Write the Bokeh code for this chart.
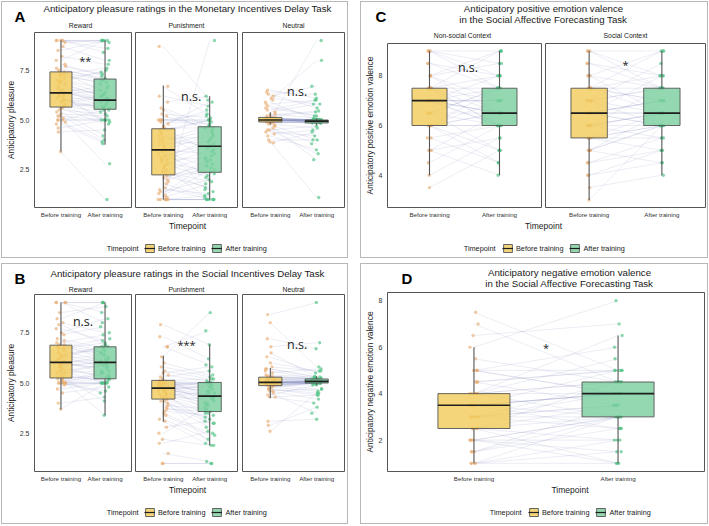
import numpy as np
from bokeh.plotting import figure
from bokeh.layouts import row, column
from bokeh.models import Range1d, FixedTicker, PrintfTickFormatter, Label, Legend, LegendItem, Spacer
from bokeh.core.properties import value
from bokeh.embed import file_html
from bokeh.resources import INLINE

FONT = "Liberation Sans"
SIG_FONT = "Open Sans"

TIMEPOINTS = ["Before training", "After training"]
TP_X = [1, 2]
BOX_W = 0.5

# ---------------- Panel A : Monetary Incentives Delay Task ----------------
A_TITLE = "Anticipatory pleasure ratings in the Monetary Incentives Delay Task"
A_FACETS = ["Reward", "Punishment", "Neutral"]
A_REW_BEFORE = [9.0,6.4,5.0,7.4,3.4,6.1,8.7,5.5,6.8,9.0, 5.2,6.3,7.2,4.8,6.0,7.5,5.7,9.0,6.6,5.1,
                6.9,5.8,8.2,4.6,6.4,7.0,5.4,9.0,6.2,7.8, 5.9,5.0,7.3,6.5,8.0,5.6,6.7,7.1,5.3,9.0,
                6.0,7.4,4.9,6.4,8.5,5.7,6.9,7.6,5.0,6.3, 8.9,5.6,7.0,6.2,5.2,7.7,6.5,4.4,6.0,7.3]
A_REW_AFTER = [9.0,6.0,5.0,7.0,1.0,5.6,8.0,5.3,6.2,8.6, 4.0,6.5,6.9,3.8,5.5,7.1,5.0,9.0,6.3,2.8,
               7.5,5.7,7.8,5.0,5.9,6.6,4.2,8.9,5.0,7.2, 6.1,5.5,6.8,5.8,9.0,4.8,6.0,7.4,5.2,8.4,
               5.6,6.4,3.9,6.7,9.0,5.4,6.1,7.0,5.0,5.7, 9.0,5.9,6.3,4.9,5.0,7.3,6.0,4.5,6.2,7.6]
A_PUN_BEFORE = [1.0,3.5,5.0,2.2,4.6,8.7,1.2,3.0,6.7,2.6, 4.0,1.0,5.0,3.3,1.6,4.4,2.0,5.5,3.8,1.0,
                2.9,4.8,3.6,1.4,5.2,2.4,4.2,1.0,3.1,5.9, 2.1,4.5,1.8,3.4,5.0,2.7,4.9,1.1,3.9,6.2,
                2.3,4.3,1.0,3.7,5.0,2.5,4.1,1.3,3.2,5.6, 2.8,4.7,1.5,3.5,5.3,1.9,4.6,1.0,3.0,2.4]
A_PUN_AFTER = [1.0,4.2,5.0,1.6,3.4,6.0,2.5,3.7,5.2,1.0, 4.7,1.2,4.9,2.2,1.0,5.0,3.0,4.4,3.9,9.0,
               2.4,5.5,1.4,2.0,4.6,3.2,3.6,1.0,4.0,6.2, 2.8,5.0,1.1,2.6,5.3,3.5,4.8,1.8,4.5,5.7,
               2.3,3.0,1.0,4.3,5.0,1.5,4.1,2.9,3.8,4.7, 2.1,5.9,1.3,3.3,5.1,2.7,4.6,1.0,3.1,1.9]
A_NEU_BEFORE = [5.0,4.9,6.5,5.0,3.9,5.1,5.0,4.0,5.4,5.0, 4.95,6.2,4.5,5.0,5.1,5.7,4.3,5.0,4.9,6.0,
                5.05,4.7,5.0,5.5,4.9,5.1,4.4,5.0,6.3,5.0, 4.85,5.2,4.6,5.0,5.9,5.1,4.2,5.0,5.0,5.8,
                4.95,4.8,5.13,6.1,5.0,3.85,5.0,5.6,4.9,5.05, 4.75,5.0,6.4,5.1,4.9,5.3,5.0,4.5,5.0,5.25]
A_NEU_AFTER = [5.0,4.9,6.1,4.95,1.1,5.0,9.0,4.0,5.8,4.9, 5.0,6.7,3.3,5.0,4.85,5.2,4.5,5.0,4.9,8.0,
               4.95,3.0,5.0,6.0,4.85,5.0,4.2,4.9,5.6,5.0, 4.9,5.4,3.8,5.0,5.0,4.95,3.5,5.0,4.9,6.0,
               5.0,4.6,5.0,5.8,4.9,4.4,5.0,5.2,4.85,5.0, 4.0,4.95,6.3,5.0,4.9,5.1,5.0,4.7,4.9,5.45]
# box statistics: [q1, median, q3, lower whisker, upper whisker]
A_REW_BOX_BEFORE = [5.65, 6.36, 7.42, 3.42, 9.0]
A_REW_BOX_AFTER = [5.54, 6.0, 7.06, 3.76, 9.0]
A_PUN_BOX_BEFORE = [2.24, 3.5, 4.56, 1.0, 6.73]
A_PUN_BOX_AFTER = [2.37, 3.68, 4.66, 1.0, 6.19]
A_NEU_BOX_BEFORE = [4.9, 5.0, 5.13, 4.77, 5.39]
A_NEU_BOX_AFTER = [4.85, 4.94, 5.0, 4.72, 5.1]
A_SIG = ["**", "n.s.", "n.s."]
A_SIG_X = [1.55, 1.6, 1.58]
A_SIG_Y = [8.0, 6.2, 6.45]

# ---------------- Panel B : Social Incentives Delay Task ----------------
B_TITLE = "Anticipatory pleasure ratings in the Social Incentives Delay Task"
B_FACETS = ["Reward", "Punishment", "Neutral"]
B_REW_BEFORE = [9.0,6.0,5.0,6.9,3.7,5.5,8.0,5.0,6.4,7.5, 5.2,6.1,5.8,9.0,4.5,6.7,5.0,6.3,7.2,5.3,
                8.5,5.0,6.0,4.0,6.6,5.6,7.0,5.1,6.2,9.0, 5.4,6.8,5.0,5.9,7.7,5.2,6.5,4.9,6.0,8.2,
                5.7,6.9,5.0,6.3,5.3,7.4,5.8,6.1,5.0,7.9, 5.5,6.4,4.7,6.7,5.6,9.0,5.1,6.2,7.1,5.9]
B_REW_AFTER = [9.0,6.2,5.0,6.5,5.0,5.9,7.5,4.6,6.8,8.2, 3.4,6.0,5.3,9.0,4.8,7.0,5.5,5.8,6.7,5.2,
               8.8,5.0,6.3,4.3,6.1,5.0,7.4,5.6,6.9,8.5, 5.1,6.4,4.5,6.0,7.1,5.4,6.6,5.0,5.7,9.0,
               5.3,6.2,5.0,6.8,4.1,7.8,6.1,5.5,5.2,6.9, 5.6,6.0,5.0,7.2,5.9,8.0,5.3,6.4,6.5,5.8]
B_PUN_BEFORE = [5.0,4.7,7.9,4.2,1.0,5.1,4.5,6.3,4.8,3.5, 5.0,4.4,2.2,4.9,5.6,4.1,6.8,4.6,3.2,5.0,
                4.3,1.5,4.75,5.3,3.8,4.9,2.5,4.6,5.8,4.0, 5.0,7.3,4.5,1.0,4.8,3.6,5.1,4.2,5.5,2.0,
                4.7,5.0,3.9,6.0,4.4,2.8,5.2,4.6,3.1,4.9, 6.8,4.3,5.0,3.4,4.75,5.4,4.1,4.8,3.7,5.13]
B_PUN_AFTER = [4.0,4.3,6.9,3.5,1.0,5.0,3.0,8.5,4.4,2.5, 5.0,3.8,1.9,4.6,5.2,3.2,7.6,4.9,2.2,4.5,
               3.6,1.1,4.2,5.6,3.3,5.0,3.9,4.1,5.3,2.8, 4.7,6.2,4.0,1.0,5.0,3.4,4.8,2.0,5.8,2.6,
               4.35,5.0,3.7,5.4,4.5,3.1,4.3,3.9,1.9,5.0, 5.9,4.2,3.5,2.4,4.8,5.1,3.0,4.6,3.6,5.2]
B_NEU_BEFORE = [5.0,5.3,8.4,4.9,2.6,5.1,5.5,4.7,5.0,6.8, 5.2,4.5,5.0,5.7,4.8,3.1,5.1,6.0,5.0,4.9,
                5.3,4.3,5.0,7.2,5.1,4.6,5.4,5.0,2.9,5.2, 4.9,6.3,5.0,4.8,5.6,5.0,4.4,5.1,8.0,5.0,
                5.3,4.7,5.05,6.5,4.9,5.2,4.3,5.0,5.8,5.1, 4.9,5.0,5.7,4.6,5.2,5.0,4.8,5.35,5.0,4.9]
B_NEU_AFTER = [5.1,5.2,9.0,5.0,4.5,5.1,5.7,4.4,5.0,7.0, 5.2,3.5,5.1,5.3,5.0,3.2,5.1,5.6,5.0,4.7,
               5.2,4.0,5.1,6.7,5.0,4.2,5.3,5.05,3.8,5.1, 5.0,5.5,5.1,4.6,5.2,5.0,4.9,5.1,5.8,5.0,
               5.25,4.5,5.1,5.3,5.0,5.2,4.4,5.05,5.6,5.0, 4.9,5.1,5.3,4.7,5.15,5.0,5.0,5.2,5.1,5.0]
B_REW_BOX_BEFORE = [5.25, 6.03, 6.88, 3.69, 9.0]
B_REW_BOX_AFTER = [5.21, 6.03, 6.8, 3.4, 9.0]
B_PUN_BOX_BEFORE = [4.2, 4.75, 5.13, 3.07, 6.36]
B_PUN_BOX_AFTER = [3.58, 4.35, 5.03, 1.9, 6.91]
B_NEU_BOX_BEFORE = [4.87, 5.03, 5.29, 4.26, 5.74]
B_NEU_BOX_AFTER = [5.0, 5.08, 5.2, 4.89, 5.33]
B_SIG = ["n.s.", "***", "n.s."]
B_SIG_X = [1.5, 1.5, 1.58]
B_SIG_Y = [8.05, 6.9, 6.9]

# ---------------- Panel C : positive emotion valence ----------------
C_TITLE = ["Anticipatory positive emotion valence", "in the Social Affective Forecasting Task"]
C_FACETS = ["Non-social Context", "Social Context"]
C_YLABEL = "Anticipatory positive emotion valence"
C_NON_BEFORE = [7,9,6,7.5,3.5,6.5,8,7,5,6, 8.5,7.5,4,7,6,9,5.5,7,6.5,8, 7.5,6,7,4.5,7.5,6,8.5,7,5,7.5,
                6.5,9,6,7,5.5,8,7,6,7.5,6.5, 8,6,7,5,7.5,6.5,9,7]
C_NON_AFTER = [6.5,9,7,6,5,7.5,6.5,7,4,6, 8,7.5,5.5,6,6.5,8.5,6,7.5,5,9, 6.5,4.5,7,6,8,6.5,7.5,6,5.5,7,
               6.5,7.5,6,8,4.5,7,6.5,7.5,9,6, 8.5,5,7,6.5,6,7.5,8,6.5]
C_SOC_BEFORE = [6.5,9,5.5,7.5,3,6,8,5,7,6.5, 4,7.5,5.5,8.5,6.5,4.5,7,6,9,5, 7.5,6.5,3.5,8,6,5.5,7,6.5,4,7.5,
                6,8.5,5,6.5,7,5.5,9,6,7.5,4.5, 6.5,8,5.5,7,6,7.5,5,6.5]
C_SOC_AFTER = [7,8,6.5,7.5,6,6.5,9,4.5,7.5,6, 5,6.5,6,8,7,5.5,6.5,7.5,9,6, 7,6.5,4,7.5,6,5,8.5,6.5,4.5,7,
               6.5,7.5,6,8,6,5.5,7.5,6.5,9,5, 7,6.5,6,7.5,5.5,8,6.5,6]
C_NON_BOX_BEFORE = [6.0, 7.0, 7.5, 4.0, 9.0]
C_NON_BOX_AFTER = [6.0, 6.5, 7.5, 4.0, 9.0]
C_SOC_BOX_BEFORE = [5.5, 6.5, 7.5, 3.0, 9.0]
C_SOC_BOX_AFTER = [6.0, 6.5, 7.5, 4.0, 9.0]
C_SIG = ["n.s.", "*"]
C_SIG_X = [1.55, 1.5]
C_SIG_Y = [8.35, 8.45]

# ---------------- Panel D : negative emotion valence ----------------
D_TITLE = ["Anticipatory negative emotion valence", "in the Social Affective Forecasting Task"]
D_YLABEL = "Anticipatory negative emotion valence"
D_BEFORE = [3.5,1,4,2.5,5,3,7.5,2,4.5,3.5, 1,4,2.5,6,3,1.5,5,3.5,2,4, 2.5,7,3,1,4.5,3.5,2,5.5,3,4,
            1.5,3.5,2.5,6.5,4,1,3,5,2,3.5, 4.5,2.5,3,4,1.5,5,3.5,2]
D_AFTER = [4,3,4.5,2,4,3.5,5,3,5,3, 1,4,4.5,8,2.5,3.5,5,4,1.5,6.5, 3,4.5,4,2,3.5,5,1,4.5,3,5.5,
           2.5,4,3.5,7,3,1.5,4.5,6,2,4, 5,1,3.5,4.5,3,4,2.5,3]
D_BOX_BEFORE = [2.5, 3.5, 4.0, 1.0, 6.0]
D_BOX_AFTER = [3.0, 4.0, 4.5, 1.0, 6.5]
D_SIG = ["*"]
D_SIG_X = [1.5]
D_SIG_Y = [6.0]

# ---------------- styling ----------------
YELLOW_BOX = "#F2CC5C"
GREEN_BOX = "#7BCF9F"
YELLOW_PT = "#E8AE74"
GREEN_PT = "#4DC283"
PAIR_LINE = "#7E83BC"
EDGE = "#555555"
MEDIAN = "#1e1e1e"
TXT = "#1a1a1a"
AXTXT = "#333333"
PANEL_BORDER = "1px solid #b8b8b8"


def jitter(n, width, phase):
    return width * ((((np.arange(n) + phase) * 0.6180339887) % 1.0) * 2.0 - 1.0)


def make_facet(before, after, box_b, box_a, sig, sx, sy, yr, yticks, yfmt,
               width, height, bl, br, bt, bb, ylabel=None, jit=0.11):
    p = figure(width=width, height=height, x_range=Range1d(0.4, 2.6), y_range=Range1d(*yr),
               toolbar_location=None, output_backend="svg",
               min_border_left=bl, min_border_right=br, min_border_top=bt, min_border_bottom=bb,
               y_axis_location="left" if ylabel else None)
    p.outline_line_color = EDGE
    p.outline_line_width = 1
    p.grid.visible = False
    p.background_fill_color = "white"
    p.border_fill_color = "white"

    n = len(before)
    xb = np.full(n, TP_X[0], dtype=float)
    xa = np.full(n, TP_X[1], dtype=float)
    p.segment(x0=xb, y0=before, x1=xa, y1=after, line_color=PAIR_LINE, line_alpha=0.25, line_width=0.6)
    p.scatter(xb + jitter(n, jit, 0.0), before, size=3.4, fill_color=YELLOW_PT, fill_alpha=0.65, line_color=None)
    p.scatter(xa + jitter(n, jit, 0.37), after, size=3.4, fill_color=GREEN_PT, fill_alpha=0.65, line_color=None)

    q1 = [box_b[0], box_a[0]]
    med = [box_b[1], box_a[1]]
    q3 = [box_b[2], box_a[2]]
    lo = [box_b[3], box_a[3]]
    hi = [box_b[4], box_a[4]]
    xs = np.array(TP_X, dtype=float)
    p.segment(x0=xs, y0=lo, x1=xs, y1=q1, line_color=EDGE, line_width=1.1)
    p.segment(x0=xs, y0=q3, x1=xs, y1=hi, line_color=EDGE, line_width=1.1)
    p.vbar(x=xs, width=BOX_W, bottom=q1, top=q3, fill_color=[YELLOW_BOX, GREEN_BOX], fill_alpha=0.82,
           line_color=EDGE, line_width=0.9)
    p.segment(x0=xs - BOX_W / 2, y0=med, x1=xs + BOX_W / 2, y1=med, line_color=MEDIAN, line_width=1.7)

    big = sig.startswith("n")
    p.text(x=[sx], y=[sy], text=[sig], text_font=value(SIG_FONT),
           text_font_size="12.5px" if big else "11px", text_align="center", text_baseline="middle",
           text_color="#222222")

    p.xaxis.ticker = FixedTicker(ticks=TP_X)
    p.xaxis.major_label_overrides = {TP_X[0]: TIMEPOINTS[0], TP_X[1]: TIMEPOINTS[1]}
    p.xaxis.axis_line_color = None
    p.xaxis.major_tick_line_color = None
    p.xaxis.minor_tick_line_color = None
    p.xaxis.major_tick_out = 0
    p.xaxis.major_tick_in = 0
    p.xaxis.major_label_standoff = 3
    p.xaxis.major_label_text_font = FONT
    p.xaxis.major_label_text_font_size = "6.2px"
    p.xaxis.major_label_text_color = AXTXT

    if ylabel:
        p.yaxis.ticker = FixedTicker(ticks=yticks)
        p.yaxis.formatter = PrintfTickFormatter(format=yfmt)
        p.yaxis.axis_line_color = None
        p.yaxis.major_tick_line_color = None
        p.yaxis.minor_tick_line_color = None
        p.yaxis.major_tick_out = 0
        p.yaxis.major_tick_in = 0
        p.yaxis.major_label_standoff = 5
        p.yaxis.major_label_text_font = FONT
        p.yaxis.major_label_text_font_size = "7px"
        p.yaxis.major_label_text_color = AXTXT
        p.yaxis.axis_label = ylabel
        p.yaxis.axis_label_text_font = FONT
        p.yaxis.axis_label_text_font_size = "8.4px"
        p.yaxis.axis_label_text_font_style = "normal"
        p.yaxis.axis_label_text_color = TXT
        p.yaxis.axis_label_standoff = 1
    return p


def blank(width, height):
    p = figure(width=width, height=height, toolbar_location=None, output_backend="svg",
               x_range=Range1d(0, 1), y_range=Range1d(0, 1),
               min_border=0, x_axis_location=None, y_axis_location=None, outline_line_color=None)
    p.grid.visible = False
    p.background_fill_color = "white"
    p.border_fill_color = "white"
    return p


def make_header(width, height, letter, lx, ly, lines, cx, line_ys, strips, strip_xs, strip_y):
    p = blank(width, height)
    p.add_layout(Label(x=lx, y=ly, x_units="screen", y_units="screen", text=letter,
                       text_font=FONT, text_font_size="15px", text_font_style="bold",
                       text_align="left", text_baseline="middle", text_color="#000000"))
    for t, yy in zip(lines, line_ys):
        p.add_layout(Label(x=cx, y=yy, x_units="screen", y_units="screen", text=t,
                           text_font=FONT, text_font_size="9.7px", text_align="center",
                           text_baseline="middle", text_color=TXT))
    for t, xx in zip(strips, strip_xs):
        p.add_layout(Label(x=xx, y=strip_y, x_units="screen", y_units="screen", text=t,
                           text_font=FONT, text_font_size="6.8px", text_align="center",
                           text_baseline="middle", text_color=TXT))
    return p


def make_footer(width, height, cx, tp_y, title_right, leg_x, leg_y):
    p = blank(width, height)
    p.add_layout(Label(x=cx, y=tp_y, x_units="screen", y_units="screen", text="Timepoint",
                       text_font=FONT, text_font_size="8.5px", text_align="center",
                       text_baseline="middle", text_color=TXT))
    p.add_layout(Label(x=title_right, y=leg_y + 5, x_units="screen", y_units="screen", text="Timepoint",
                       text_font=FONT, text_font_size="7.3px", text_align="right",
                       text_baseline="middle", text_color=TXT))
    # legend-key renderers: their single point lies outside the visible range
    rb = p.vbar(x=[-5], bottom=[-6], top=[-5], width=1, fill_color=YELLOW_BOX, fill_alpha=0.82,
                line_color=EDGE, line_width=0.9)
    rbm = p.line(x=[-6, -5], y=[-5, -5], line_color=MEDIAN, line_width=1.2)
    ra = p.vbar(x=[-5], bottom=[-6], top=[-5], width=1, fill_color=GREEN_BOX, fill_alpha=0.82,
                line_color=EDGE, line_width=0.9)
    ram = p.line(x=[-6, -5], y=[-5, -5], line_color=MEDIAN, line_width=1.2)
    leg = Legend(items=[LegendItem(label=TIMEPOINTS[0], renderers=[rb, rbm]),
                        LegendItem(label=TIMEPOINTS[1], renderers=[ra, ram])],
                 location=(leg_x, leg_y), orientation="horizontal",
                 glyph_width=11, glyph_height=10, label_standoff=3, spacing=6,
                 padding=0, margin=0, border_line_color=None, background_fill_alpha=0,
                 label_text_font=FONT, label_text_font_size="7.3px", label_text_color=TXT,
                 label_height=10, label_width=10, label_text_baseline="middle")
    p.add_layout(leg)
    return p


def panel(children):
    return column(*children, styles={"border": PANEL_BORDER})


# ---- Panel A
a_dims = [(131, 27, 2), (107, 2, 3), (107, 2, 3)]
a_head = make_header(345, 27, "A", 12, 13.5, [A_TITLE], 185, [21], A_FACETS, [78, 184, 291], 4)
a_data = [(A_REW_BEFORE, A_REW_AFTER, A_REW_BOX_BEFORE, A_REW_BOX_AFTER),
          (A_PUN_BEFORE, A_PUN_AFTER, A_PUN_BOX_BEFORE, A_PUN_BOX_AFTER),
          (A_NEU_BEFORE, A_NEU_AFTER, A_NEU_BOX_BEFORE, A_NEU_BOX_AFTER)]
a_figs = []
for i in range(3):
    w, bl, br = a_dims[i]
    b, a, bxb, bxa = a_data[i]
    a_figs.append(make_facet(b, a, bxb, bxa, A_SIG[i], A_SIG_X[i], A_SIG_Y[i],
                             (0.6, 9.4), [2.5, 5.0, 7.5], "%.1f", w, 191, bl, br, 3, 10,
                             ylabel="Anticipatory pleasure" if i == 0 else None))
a_foot = make_footer(345, 37, 185, 32, 136, 142, 4)
panel_a = panel([a_head, row(*a_figs), a_foot])

# ---- Panel B
b_head = make_header(345, 29, "B", 12, 15.5, [B_TITLE], 185, [20], B_FACETS, [78, 184, 291], 4)
b_data = [(B_REW_BEFORE, B_REW_AFTER, B_REW_BOX_BEFORE, B_REW_BOX_AFTER),
          (B_PUN_BEFORE, B_PUN_AFTER, B_PUN_BOX_BEFORE, B_PUN_BOX_AFTER),
          (B_NEU_BEFORE, B_NEU_AFTER, B_NEU_BOX_BEFORE, B_NEU_BOX_AFTER)]
b_figs = []
for i in range(3):
    w, bl, br = a_dims[i]
    b, a, bxb, bxa = b_data[i]
    b_figs.append(make_facet(b, a, bxb, bxa, B_SIG[i], B_SIG_X[i], B_SIG_Y[i],
                             (0.6, 9.4), [2.5, 5.0, 7.5], "%.1f", w, 191, bl, br, 1, 11,
                             ylabel="Anticipatory pleasure" if i == 0 else None))
b_foot = make_footer(345, 39, 185, 34, 136, 142, 6)
panel_b = panel([b_head, row(*b_figs), b_foot])

# ---- Panel C
c_dims = [(182, 22, 2), (164, 2, 2)]
c_head = make_header(346, 39, "C", 14, 24.8, C_TITLE, 182, [33, 22], C_FACETS, [101, 264], 6)
c_data = [(C_NON_BEFORE, C_NON_AFTER, C_NON_BOX_BEFORE, C_NON_BOX_AFTER),
          (C_SOC_BEFORE, C_SOC_AFTER, C_SOC_BOX_BEFORE, C_SOC_BOX_AFTER)]
c_figs = []
for i in range(2):
    w, bl, br = c_dims[i]
    b, a, bxb, bxa = c_data[i]
    c_figs.append(make_facet(b, a, bxb, bxa, C_SIG[i], C_SIG_X[i], C_SIG_Y[i],
                             (2.7, 9.3), [4, 6, 8], "%d", w, 179, bl, br, 2, 10,
                             ylabel=C_YLABEL if i == 0 else None, jit=0.03))
c_foot = make_footer(346, 37, 182, 32, 134, 141, 4)
panel_c = panel([c_head, row(*c_figs), c_foot])

# ---- Panel D
d_head = make_header(346, 27, "D", 14, 13, D_TITLE, 182, [19, 8], [], [], 0)
d_fig = make_facet(D_BEFORE, D_AFTER, D_BOX_BEFORE, D_BOX_AFTER, D_SIG[0], D_SIG_X[0], D_SIG_Y[0],
                   (0.65, 8.35), [2, 4, 6, 8], "%d", 346, 193, 22, 3, 1, 11,
                   ylabel=D_YLABEL, jit=0.03)
d_foot = make_footer(346, 39, 182.5, 34, 134, 141, 6)
panel_d = panel([d_head, d_fig, d_foot])

left = column(Spacer(width=1, height=1), panel_a, Spacer(width=1, height=5), panel_b)
right = column(Spacer(width=1, height=1), panel_c, Spacer(width=1, height=5), panel_d)
layout = row(Spacer(width=1, height=1), left, Spacer(width=12, height=1), right)

with open("out.html", "w") as f:
    f.write(file_html(layout, INLINE, title="Anticipatory ratings"))
